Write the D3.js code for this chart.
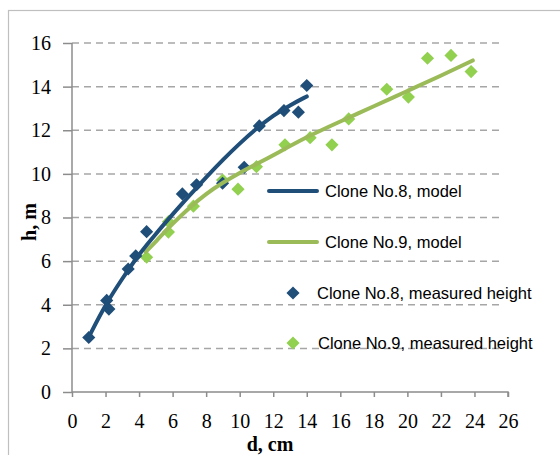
<!DOCTYPE html>
<html lang="en">
<head>
<meta charset="UTF-8">
<title>Clone height model</title>
<style>
body { margin: 0; background: #fff; }
.axis-title { font: bold 20px "Liberation Serif", "Times New Roman", serif; fill: #000; }
.legend text { font: 16.5px "Liberation Sans", Arial, sans-serif; fill: #000; }
</style>
</head>
<body>
<svg width="560" height="455"></svg>
<script src="https://cdn.jsdelivr.net/npm/d3@7"></script>
<script>
// measured heights, clone 8
var c8D = [1.0, 2.07, 2.2, 3.35, 3.8, 4.45, 6.58, 7.43, 8.98, 10.27, 11.17, 12.64, 13.5, 14.0];
var c8H = [2.5, 4.2, 3.8, 5.64, 6.24, 7.35, 9.08, 9.5, 9.57, 10.3, 12.2, 12.9, 12.83, 14.05];
// measured heights, clone 9
var c9D = [4.45, 5.75, 5.75, 7.24, 8.98, 9.9, 11.0, 12.7, 14.2, 15.5, 16.5, 18.77, 20.06, 21.2, 22.6, 23.8];
var c9H = [6.18, 7.81, 7.33, 8.52, 9.72, 9.3, 10.33, 11.33, 11.66, 11.33, 12.52, 13.88, 13.52, 15.3, 15.43, 14.69];
// model curves
var m8D = [1, 2, 3, 4, 5, 6, 7, 8, 9, 10, 11, 12, 13, 14];
var m8H = [2.52, 4.02, 5.2, 6.33, 7.25, 8.15, 9.0, 9.85, 10.65, 11.4, 12.08, 12.68, 13.15, 13.55];
var m9D = [4.4, 5, 6, 7, 8, 9, 10, 11, 12, 14, 16, 18, 20, 22, 23.9];
var m9H = [6.42, 6.9, 7.72, 8.45, 9.1, 9.6, 10.05, 10.45, 10.85, 11.7, 12.4, 13.1, 13.8, 14.5, 15.2];

var xTicks = d3.range(0, 27, 2);
var yTicks = d3.range(0, 17, 2);

var blue = "#1f4e79", greenLine = "#9bbb59", greenDot = "#92d050";

var svg = d3.select("svg");

// outer chart frame (only left and top edges in view)
svg.append("rect")
    .attr("x", 8.5).attr("y", 10.5)
    .attr("width", 600).attr("height", 500)
    .attr("fill", "none").attr("stroke", "#bfbfbf").attr("stroke-width", 1.2);

var x = d3.scaleLinear().domain([0, 26]).range([72, 508]);
var y = d3.scaleLinear().domain([0, 16]).range([392, 43]);

// gridlines
svg.append("g").selectAll("line")
    .data(yTicks.filter(function(d) { return d > 0; }))
    .enter().append("line")
    .attr("x1", 72).attr("x2", 503)
    .attr("y1", function(d) { return y(d); })
    .attr("y2", function(d) { return y(d); })
    .attr("stroke", "#a6a6a6").attr("stroke-width", 1.5)
    .attr("stroke-dasharray", "7,5");

// y axis
var yAxis = svg.append("g")
    .attr("transform", "translate(72,0)")
    .call(d3.axisLeft(y).tickValues(yTicks).tickSize(9).tickPadding(12));
// x axis
var xAxis = svg.append("g")
    .attr("transform", "translate(0,392)")
    .call(d3.axisBottom(x).tickValues(xTicks).tickSize(5).tickPadding(17));

[yAxis, xAxis].forEach(function(a) {
    a.attr("font-family", "Liberation Serif").attr("font-size", 20);
    a.select(".domain").attr("stroke", "#8c8c8c").attr("stroke-width", 1.5);
    a.selectAll(".tick line").attr("stroke", "#8c8c8c").attr("stroke-width", 1.5);
    a.selectAll(".tick text").attr("fill", "#000");
});
yAxis.select(".domain").attr("d", "M0," + y(16) + "V" + y(0));
xAxis.select(".domain").attr("d", "M" + x(0) + ",0H" + x(26) + "V5");

svg.append("text").attr("class", "axis-title")
    .attr("x", 270).attr("y", 451).attr("text-anchor", "middle")
    .text("d, cm");
svg.append("text").attr("class", "axis-title")
    .attr("transform", "translate(36,222) rotate(-90)")
    .attr("text-anchor", "middle")
    .text("h, m");

var line = d3.line()
    .x(function(d) { return x(d[0]); })
    .y(function(d) { return y(d[1]); })
    .curve(d3.curveBasis);

var diamond = d3.symbol().type(d3.symbolDiamond2).size(110);

function dots(ds, hs, color) {
    svg.append("g").selectAll("path")
        .data(d3.zip(ds, hs))
        .enter().append("path")
        .attr("d", diamond)
        .attr("transform", function(d) { return "translate(" + x(d[0]) + "," + y(d[1]) + ")"; })
        .attr("fill", color);
}
function model(ds, hs, color) {
    svg.append("path")
        .datum(d3.zip(ds, hs))
        .attr("d", line)
        .attr("fill", "none")
        .attr("stroke", color)
        .attr("stroke-width", 4)
        .attr("stroke-linecap", "round");
}

dots(c9D, c9H, greenDot);
dots(c8D, c8H, blue);
model(m9D, m9H, greenLine);
model(m8D, m8H, blue);

// legend
var legend = svg.append("g").attr("class", "legend");
var items = [
    { type: "line", color: blue, label: "Clone No.8, model", y: 191, tx: 325 },
    { type: "line", color: greenLine, label: "Clone No.9, model", y: 242, tx: 325 },
    { type: "dot", color: blue, label: "Clone No.8, measured height", y: 293, tx: 317 },
    { type: "dot", color: greenDot, label: "Clone No.9, measured height", y: 343, tx: 318 }
];
items.forEach(function(it) {
    if (it.type === "line") {
        legend.append("line")
            .attr("x1", 269).attr("x2", 317)
            .attr("y1", it.y).attr("y2", it.y)
            .attr("stroke", it.color).attr("stroke-width", 4)
            .attr("stroke-linecap", "round");
    } else {
        legend.append("path")
            .attr("d", diamond)
            .attr("transform", "translate(293," + it.y + ")")
            .attr("fill", it.color);
    }
    legend.append("text")
        .attr("x", it.tx).attr("y", it.y)
        .attr("dy", "0.35em")
        .text(it.label);
});
</script>
</body>
</html>
